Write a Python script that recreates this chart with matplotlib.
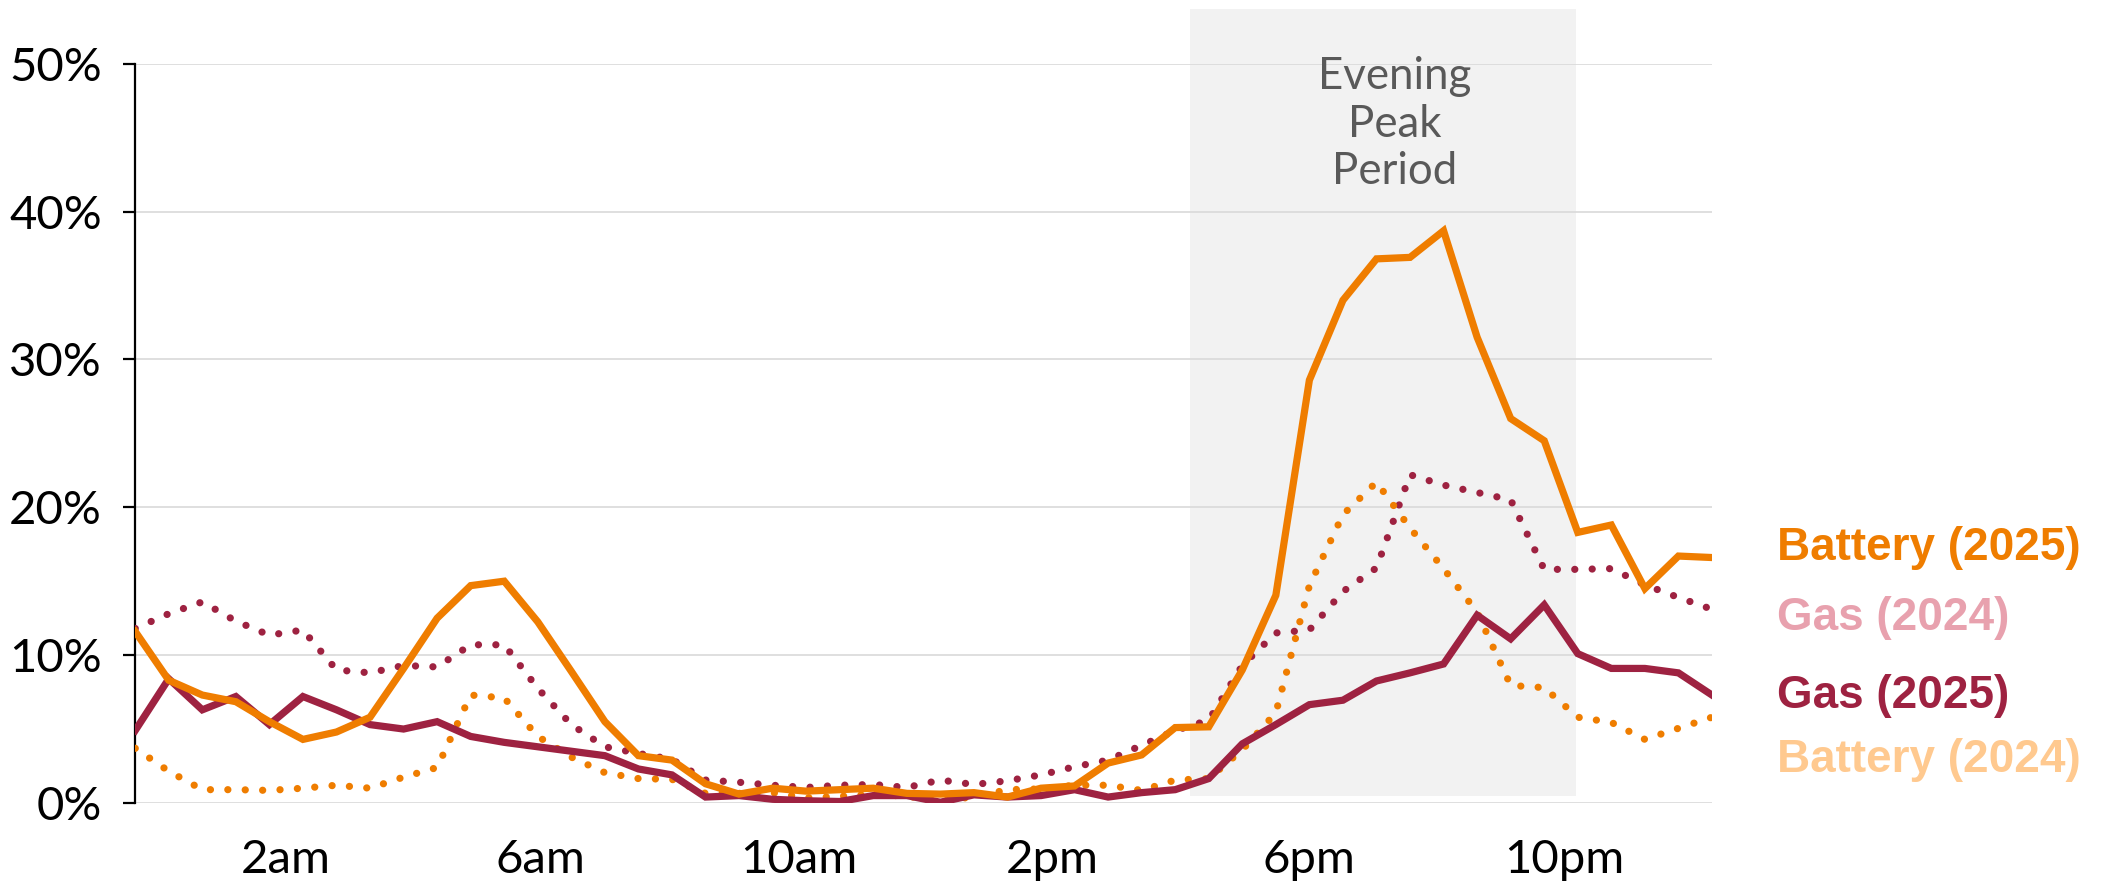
import matplotlib
matplotlib.use("Agg")
import matplotlib.pyplot as plt
import numpy as np

# half-hour intervals across the day, share of generation (%)
battery_2025 = [11.6, 8.3, 7.3, 6.85, 5.5, 4.3, 4.8, 5.8, 9.1, 12.5, 14.7, 15.0,
                12.25, 8.9, 5.5, 3.2, 2.9, 1.3, 0.6, 1.0, 0.8, 0.9, 1.0, 0.65,
                0.6, 0.7, 0.4, 1.0, 1.15, 2.7, 3.25, 5.1, 5.15, 9.0, 14.05, 28.6,
                34.0, 36.8, 36.9, 38.7, 31.5, 26.0, 24.5, 18.3, 18.8, 14.5, 16.7, 16.6]
gas_2025 = [4.9, 8.4, 6.3, 7.2, 5.3, 7.2, 6.3, 5.3, 5.0, 5.5, 4.5, 4.1,
            3.8, 3.5, 3.2, 2.3, 1.9, 0.4, 0.5, 0.25, 0.15, 0.1, 0.5, 0.5,
            0.05, 0.55, 0.4, 0.5, 0.9, 0.4, 0.7, 0.9, 1.65, 4.0, 5.3, 6.65,
            6.95, 8.25, 8.8, 9.4, 12.7, 11.1, 13.4, 10.1, 9.1, 9.1, 8.8, 7.3]
gas_2024 = [11.8, 12.8, 13.6, 12.3, 11.35, 11.7, 9.0, 8.8, 9.3, 9.2, 10.7, 10.7,
            7.75, 5.3, 3.8, 3.35, 2.95, 1.55, 1.4, 1.2, 1.05, 1.2, 1.25, 1.05,
            1.55, 1.25, 1.5, 1.9, 2.45, 2.9, 3.9, 4.9, 5.6, 9.3, 11.5, 11.7,
            14.3, 15.9, 22.2, 21.5, 21.0, 20.5, 15.8, 15.8, 15.85, 14.75, 13.9, 13.1]
battery_2024 = [3.7, 2.15, 0.9, 0.9, 0.85, 1.0, 1.2, 1.0, 1.75, 2.4, 7.3, 7.1,
                4.5, 3.1, 2.05, 1.65, 1.6, 0.65, 0.65, 0.7, 0.35, 0.45, 0.6, 0.45,
                0.2, 0.4, 0.9, 0.95, 1.2, 1.2, 0.85, 1.55, 1.65, 3.6, 6.1, 14.7,
                19.5, 21.7, 18.6, 15.85, 12.9, 7.95, 7.8, 5.8, 5.45, 4.3, 5.05, 5.8]

tick_labels = ["2am", "6am", "10am", "2pm", "6pm", "10pm"]
legend_labels = ["Battery (2025)", "Gas (2024)", "Gas (2025)", "Battery (2024)"]

orange = "#EF7D00"
maroon = "#9E2241"
legend_colors = [orange, "#E8A1AE", maroon, "#FFC98F"]

x = np.arange(len(battery_2025))

fig = plt.figure(figsize=(21.06, 8.92), dpi=100)
ax = fig.add_axes([0.0642, 0.0998, 0.7487, 0.8288])

# evening peak shading (extends a little above the plot)
ax.axvspan(31.44, 42.96, ymin=0.0094, ymax=1.074, color="#F2F2F2",
           zorder=0.2, clip_on=False, lw=0)
ax.text(37.55, 45.9, "Evening\nPeak\nPeriod", ha="center", va="center",
        fontsize=31.5, color="#595959", family="Lato", linespacing=1.2)

dots = (0, (0.01, 2.4))
ax.plot(x, gas_2024, color=maroon, lw=5.2, ls=dots, dash_capstyle="round", zorder=3)
ax.plot(x, battery_2024, color=orange, lw=5.2, ls=dots, dash_capstyle="round", zorder=3)
ax.plot(x, gas_2025, color=maroon, lw=5.2, solid_joinstyle="miter", zorder=4)
ax.plot(x, battery_2025, color=orange, lw=5.2, solid_joinstyle="miter", zorder=5)

ax.set_xlim(0, 47)
ax.set_ylim(0, 50)
ax.set_yticks([0, 10, 20, 30, 40, 50])
ax.set_yticklabels([f"{v}%" for v in range(0, 60, 10)], family="Lato", fontsize=34)
ax.set_xticks([4.49, 12.09, 19.77, 27.33, 35.0, 42.6])
ax.set_xticklabels(tick_labels, family="Lato", fontsize=34)

ax.set_axisbelow(True)
ax.yaxis.grid(True, color="#D9D9D9", lw=1.2)
ax.tick_params(axis="x", length=0, pad=26)
ax.tick_params(axis="y", length=9, width=1.6, pad=15, direction="out")
for s in ["top", "right", "bottom"]:
    ax.spines[s].set_visible(False)
ax.spines["left"].set_linewidth(1.6)

# coloured labels instead of a legend box
label_y = [0.3722, 0.2937, 0.2060, 0.1349]
for txt, col, yy in zip(legend_labels, legend_colors, label_y):
    fig.text(0.8437, yy, txt, color=col, fontsize=33, fontweight="bold",
             family="Liberation Sans", va="baseline", ha="left")

fig.savefig("out.png", dpi=100)
